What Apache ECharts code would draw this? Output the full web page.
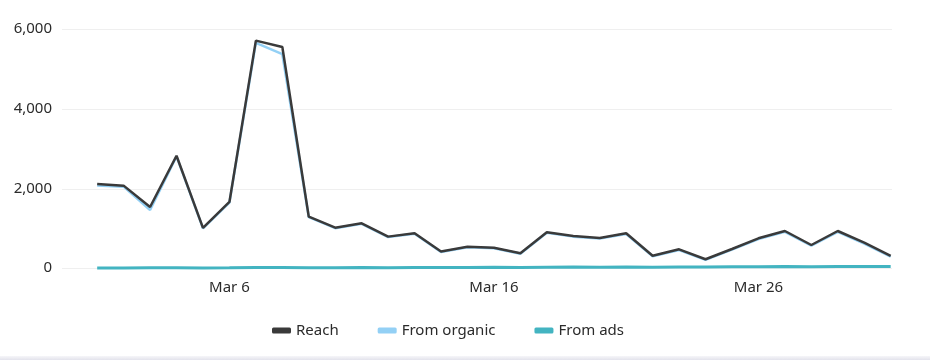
<!DOCTYPE html>
<html>
<head>
<meta charset="utf-8">
<script src="https://cdn.jsdelivr.net/npm/echarts@6/dist/echarts.min.js"></script>
<style>
  html, body { margin: 0; padding: 0; background: #ffffff; }
  #chart { width: 930px; height: 360px; }
  #edge { position: absolute; left: 0; top: 356px; width: 930px; height: 4px;
          background: linear-gradient(to bottom, #f6f6f9, #e3e3ec); }
</style>
</head>
<body>
<div id="chart"></div>
<div id="edge"></div>
<script>
// Daily reach for March (day 1 .. 31)
const days = Array.from({ length: 31 }, (_, i) => i + 1);
const reach = [2120, 2080, 1545, 2830, 1020, 1670, 5720, 5560, 1300, 1025, 1135, 800, 885, 425, 548, 522,
               385, 910, 816, 766, 884, 322, 482, 232, 490, 758, 941, 590, 941, 648, 315];
const fromOrganic = [2085, 2055, 1470, 2815, 1008, 1655, 5665, 5380, 1288, 1012, 1122, 788, 872, 412, 534, 508,
                     371, 895, 800, 750, 867, 306, 465, 215, 472, 739, 921, 571, 921, 627, 295];
const fromAds = [15, 12, 18, 20, 14, 16, 22, 25, 20, 18, 22, 20, 25, 22, 28, 30,
                 26, 32, 35, 30, 38, 34, 40, 36, 42, 45, 48, 44, 50, 52, 48];
const dayTicks = [6, 16, 26];
const yTicks = [0, 2000, 4000, 6000];

const FONT = 'Noto Sans';
const pairs = arr => arr.map((v, i) => [days[i], v]);

const chart = echarts.init(document.getElementById('chart'), null, { renderer: 'canvas' });
chart.setOption({
  animation: false,
  backgroundColor: '#ffffff',
  grid: { left: 62, right: 38, top: 29.5, bottom: 91.5 },
  legend: {
    left: 267, top: 318,
    itemWidth: 19, itemHeight: 6, itemGap: 39,
    icon: 'roundRect',
    textStyle: { fontFamily: FONT, fontSize: 15, color: '#2b2b2b' },
    data: ['Reach', 'From organic', 'From ads']
  },
  xAxis: {
    type: 'value',
    min: -0.33, max: 31.05,
    axisLine: { show: false },
    axisTick: { show: false },
    splitLine: { show: false },
    axisLabel: {
      customValues: dayTicks,
      margin: 12,
      fontFamily: FONT, fontSize: 15, color: '#2b2b2b',
      formatter: v => 'Mar ' + v
    }
  },
  yAxis: {
    type: 'value',
    min: 0, max: 6000, interval: 2000,
    axisLine: { show: false },
    axisTick: { show: false },
    splitLine: { lineStyle: { color: '#efefef', width: 1 } },
    axisLabel: {
      customValues: yTicks,
      margin: 10,
      fontFamily: FONT, fontSize: 15, color: '#2b2b2b',
      verticalAlign: 'top', padding: [-8, 0, 0, 0],
      formatter: v => v.toLocaleString('en-US')
    }
  },
  series: [
    {
      name: 'Reach', type: 'line', z: 5,
      data: pairs(reach), showSymbol: false,
      itemStyle: { color: '#3a3a3a' },
      lineStyle: { color: '#3a3a3a', width: 2.5 }
    },
    {
      name: 'From organic', type: 'line', z: 3,
      data: pairs(fromOrganic), showSymbol: false,
      itemStyle: { color: '#93d0f5' },
      lineStyle: { color: '#93d0f5', width: 2.5 }
    },
    {
      name: 'From ads', type: 'line', z: 4,
      data: pairs(fromAds), showSymbol: false,
      itemStyle: { color: '#43b4c1' },
      lineStyle: { color: '#43b4c1', width: 3 }
    }
  ]
});
</script>
</body>
</html>
